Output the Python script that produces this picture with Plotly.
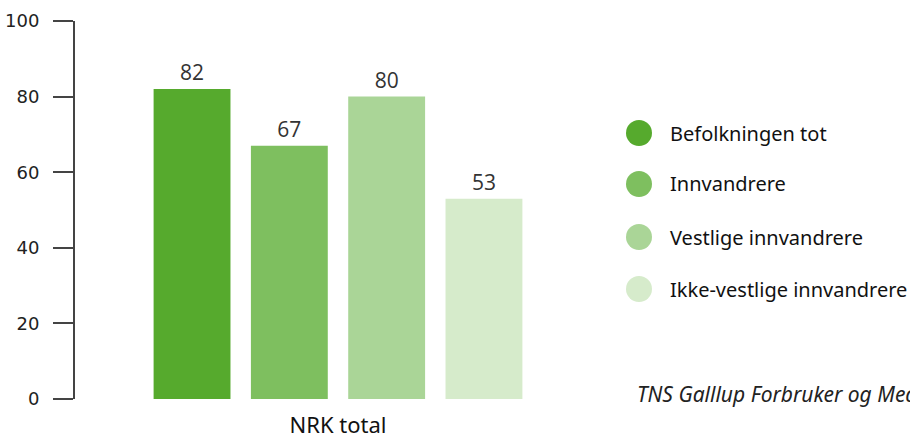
import plotly.graph_objects as go

category = ["NRK total"]
series_names = ["Befolkningen tot", "Innvandrere", "Vestlige innvandrere", "Ikke-vestlige innvandrere"]
series_values = [82, 67, 80, 53]
colors = ["#56AA2D", "#7EBF5F", "#AAD597", "#D6EBCB"]
y_ticks = [0, 20, 40, 60, 80, 100]
source_text = "TNS Galllup Forbruker og Media"

PW, PH = 526, 378

fig = go.Figure()
for name, val, col in zip(series_names, series_values, colors):
    fig.add_trace(go.Bar(
        x=category, y=[val], name=name, marker_color=col, marker_line_width=0,
        text=[str(val)], textposition="outside", cliponaxis=False,
        textfont=dict(family="Open Sans", size=21, color="#333333"),
        showlegend=False,
    ))

# custom legend with circle markers
circ_x0 = (626 - 75) / PW
text_x = (668 - 75) / PW
leg_py = [133, 184, 237, 289]
for name, col, py in zip(series_names, colors, leg_py):
    yy = (399 - py) / PH
    fig.add_shape(type="circle", xref="paper", yref="paper",
                  x0=circ_x0, x1=circ_x0 + 26 / PW, y0=yy - 13 / PH, y1=yy + 13 / PH,
                  fillcolor=col, line_width=0)
    fig.add_annotation(xref="paper", yref="paper", x=text_x, y=yy,
                       text=name, showarrow=False, xanchor="left", yanchor="middle",
                       font=dict(family="Noto Sans", size=20, color="#111111"))

fig.add_annotation(xref="paper", yref="paper", x=(635 - 75) / PW, y=(399 - 394) / PH,
                   text="<i>" + source_text + "</i>", showarrow=False,
                   xanchor="left", yanchor="middle",
                   font=dict(family="Noto Sans", size=21, color="#222222"))

fig.update_layout(
    width=910, height=439,
    margin=dict(l=75, r=309, t=21, b=40),
    paper_bgcolor="white", plot_bgcolor="white",
    barmode="group", bargap=0.26, bargroupgap=0.21,
    showlegend=False,
    xaxis=dict(showline=False, ticks="", showgrid=False, automargin=False,
               ticklabelstandoff=11,
               tickfont=dict(family="Noto Sans", size=22, color="#111111")),
    yaxis=dict(range=[0, 100], tickvals=y_ticks, showgrid=False, zeroline=False,
               automargin=False,
               showline=True, linecolor="#444444", linewidth=2,
               ticks="outside", ticklen=20, tickwidth=2, tickcolor="#444444",
               ticklabelstandoff=10,
               tickfont=dict(family="DejaVu Sans", size=18, color="#222222")),
)

fig.write_html("out.html", config={"displayModeBar": False},
               post_script="document.body.style.margin='0';document.body.style.overflow='hidden';")
